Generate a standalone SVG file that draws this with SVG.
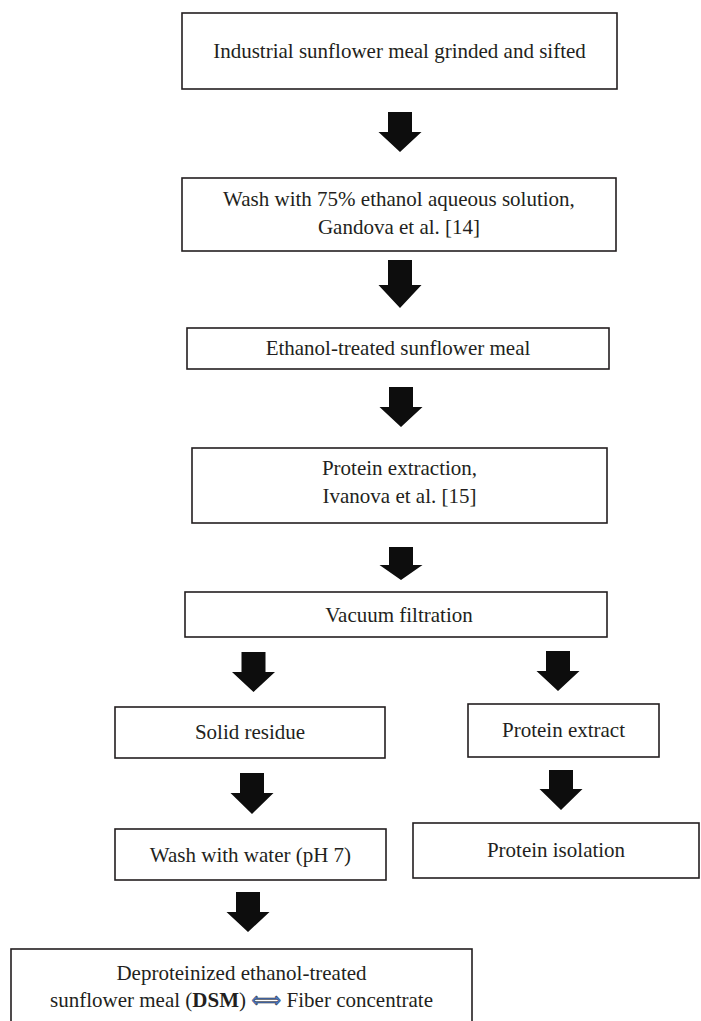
<svg xmlns="http://www.w3.org/2000/svg" width="701" height="1021" viewBox="0 0 701 1021">
<style>
.box{fill:#fff;stroke:#231f20;stroke-width:1.6}
.t{font-family:"Liberation Serif","Times New Roman",serif;font-size:21px;fill:#231f20;text-anchor:middle}
.arr{fill:#0d0d0d}
</style>
<rect width="701" height="1021" fill="#fff"/>
<g id="n1"><rect class="box" x="182" y="13" width="435" height="76"/><text class="t" x="399.5" y="58">Industrial sunflower meal grinded and sifted</text></g>
<g id="n2"><rect class="box" x="182" y="178" width="434" height="73"/><text class="t" x="399" y="206">Wash with 75% ethanol aqueous solution,</text><text class="t" x="399" y="234">Gandova et al. [14]</text></g>
<g id="n3"><rect class="box" x="187" y="328" width="422" height="41"/><text class="t" x="398" y="355">Ethanol-treated sunflower meal</text></g>
<g id="n4"><rect class="box" x="192" y="448" width="415" height="75"/><text class="t" x="399.5" y="475">Protein extraction,</text><text class="t" x="399.5" y="503">Ivanova et al. [15]</text></g>
<g id="n5"><rect class="box" x="185" y="592" width="422" height="45"/><text class="t" x="399" y="622">Vacuum filtration</text></g>
<g id="n6"><rect class="box" x="115" y="707" width="270" height="51"/><text class="t" x="250" y="739">Solid residue</text></g>
<g id="n7"><rect class="box" x="468" y="704" width="191" height="53"/><text class="t" x="563.5" y="737">Protein extract</text></g>
<g id="n8"><rect class="box" x="115" y="829" width="271" height="51"/><text class="t" x="250.5" y="862">Wash with water (pH 7)</text></g>
<g id="n9"><rect class="box" x="413" y="823" width="286" height="55"/><text class="t" x="556" y="857">Protein isolation</text></g>
<g id="n10"><rect class="box" x="11" y="949" width="461" height="90"/><text class="t" x="241.5" y="980">Deproteinized ethanol-treated</text><text class="t" x="241.5" y="1007">sunflower meal (<tspan font-weight="bold">DSM</tspan>) <tspan font-family="DejaVu Sans, sans-serif" fill="#4a78c8" stroke="#1a1a1a" stroke-width="0.4">⟺</tspan> Fiber concentrate</text></g>
<g id="connectors">
<polygon class="arr" points="388,112 412,112 412,132 421.5,132 400,152 378.5,132 388,132"/>
<polygon class="arr" points="388,260 412,260 412,285 421.5,285 400,308 378.5,285 388,285"/>
<polygon class="arr" points="389,387 413,387 413,407 422.5,407 401,427 379.5,407 389,407"/>
<polygon class="arr" points="389,547 413,547 413,565 422.5,565 401,580 379.5,565 389,565"/>
<polygon class="arr" points="241.5,652 265.5,652 265.5,672 275,672 253.5,692 232,672 241.5,672"/>
<polygon class="arr" points="546,651 570,651 570,671 579.5,671 558,691 536.5,671 546,671"/>
<polygon class="arr" points="240,773 264,773 264,793 273.5,793 252,814 230.5,793 240,793"/>
<polygon class="arr" points="549,770 573,770 573,789 582.5,789 561,810 539.5,789 549,789"/>
<polygon class="arr" points="236,892 260,892 260,912 269.5,912 248,932 226.5,912 236,912"/>
</g>
</svg>
